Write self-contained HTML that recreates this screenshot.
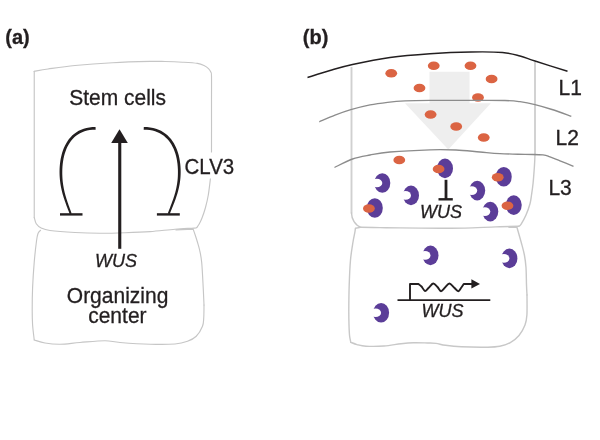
<!DOCTYPE html>
<html>
<head>
<meta charset="utf-8">
<title>Figure</title>
<style>
html,body{margin:0;padding:0;background:#fff;}
body{width:600px;height:440px;overflow:hidden;}
svg{display:block;will-change:transform;}
text{font-family:"Liberation Sans",sans-serif;fill:#231f20;stroke:#231f20;stroke-width:0.3px;}
.lbl{font-size:21px;}
.pan{font-size:20px;font-weight:bold;}
.gene{font-size:18px;font-style:italic;}
.box{fill:none;stroke:#c6c6c6;stroke-width:1.15;stroke-linecap:round;stroke-linejoin:round;}
.blk{fill:none;stroke:#231f20;stroke-width:2.7;}
</style>
</head>
<body>
<svg width="600" height="440" viewBox="0 0 600 440">
<rect width="600" height="440" fill="#fff"/>

<!-- panel (a) -->
<text class="pan" x="5.3" y="44">(a)</text>
<path class="box" d="M34.25,217.50 C34.25,193.12 34.25,95.62 34.25,71.25"/>
<path class="box" d="M34.25,71.25 C36.54,70.88 41.21,69.96 48.00,69.00 C54.79,68.04 64.25,66.55 75.00,65.50 C85.75,64.45 100.00,63.38 112.50,62.70 C125.00,62.02 141.25,61.60 150.00,61.40 C158.75,61.20 159.58,61.37 165.00,61.50 C170.42,61.63 177.08,61.88 182.50,62.20 C187.92,62.52 193.92,62.85 197.50,63.40 C201.08,63.95 202.17,64.63 204.00,65.50 C205.83,66.37 207.37,67.52 208.50,68.60 C209.63,69.68 210.30,70.77 210.80,72.00 C211.30,73.23 211.38,71.33 211.50,76.00 C211.62,80.67 211.50,96.00 211.50,100.00"/>
<path class="box" d="M211.50,100.00 C211.50,108.33 211.55,138.33 211.50,150.00 C211.45,161.67 211.38,165.21 211.20,170.00 C211.02,174.79 210.88,174.58 210.40,178.75 C209.92,182.92 209.12,190.21 208.30,195.00 C207.48,199.79 206.55,203.67 205.50,207.50 C204.45,211.33 203.05,215.25 202.00,218.00 C200.95,220.75 200.06,222.42 199.20,224.00 C198.34,225.58 197.24,226.92 196.85,227.50"/>
<path class="box" d="M196.85,227.50 C196.38,227.60 197.64,227.82 194.00,228.10 C190.36,228.38 182.33,228.62 175.00,229.20 C167.67,229.78 158.33,231.01 150.00,231.60 C141.67,232.19 133.33,232.47 125.00,232.75 C116.67,233.03 108.33,233.29 100.00,233.25 C91.67,233.21 83.33,232.96 75.00,232.50 C66.67,232.04 55.62,231.25 50.00,230.50 C44.38,229.75 43.54,229.12 41.25,228.00 C38.96,226.88 37.42,225.50 36.25,223.75 C35.08,222.00 34.58,218.54 34.25,217.50"/>
<path class="box" d="M40.50,230.30 C40.08,230.83 38.67,231.72 38.00,233.50 C37.33,235.28 37.13,236.17 36.50,241.00 C35.87,245.83 34.85,254.75 34.20,262.50 C33.55,270.25 32.93,279.58 32.60,287.50 C32.27,295.42 32.20,303.75 32.20,310.00 C32.20,316.25 32.26,320.00 32.60,325.00 C32.94,330.00 33.98,337.50 34.25,340.00"/>
<path class="box" d="M34.25,340.00 C36.04,340.50 40.71,342.29 45.00,343.00 C49.29,343.71 54.17,344.33 60.00,344.25 C65.83,344.17 72.50,343.08 80.00,342.50 C87.50,341.92 98.33,340.75 105.00,340.75 C111.67,340.75 112.50,341.92 120.00,342.50 C127.50,343.08 140.83,344.00 150.00,344.25 C159.17,344.50 168.75,344.50 175.00,344.00 C181.25,343.50 183.96,342.54 187.50,341.25 C191.04,339.96 193.75,338.75 196.25,336.25 C198.75,333.75 201.25,329.38 202.50,326.25 C203.75,323.12 203.50,321.04 203.75,317.50 C204.00,313.96 203.96,307.08 204.00,305.00"/>
<path class="box" d="M204.00,305.00 C203.87,302.08 203.58,294.58 203.20,287.50 C202.82,280.42 202.30,268.75 201.70,262.50 C201.10,256.25 200.32,253.42 199.60,250.00 C198.88,246.58 198.13,244.50 197.40,242.00 C196.67,239.50 195.92,237.17 195.20,235.00 C194.48,232.83 193.45,230.00 193.10,229.00 M176,229.9 L193.1,229.1"/>
<rect x="183" y="152.5" width="53" height="26" fill="#fff"/>
<text class="lbl" transform="translate(69.2,104.6) scale(1,1.055)">Stem cells</text>
<text class="lbl" transform="translate(184.5,173.7) scale(0.975,1.075)">CLV3</text>
<text class="gene" x="95.1" y="266.9">WUS</text>
<text class="lbl" transform="translate(66.8,302.6) scale(1,1.055)">Organizing</text>
<text class="lbl" transform="translate(88.2,323.2) scale(1,1.055)">center</text>
<path d="M119.75,141 L119.75,248.8" fill="none" stroke="#231f20" stroke-width="3.1"/>
<path d="M119.5,129.3 L127.8,143 L111.2,143 Z" fill="#231f20"/>
<path d="M95.55,126.93 L92.38,127.04 L89.32,127.38 L86.42,127.94 L83.69,128.71 L81.11,129.68 L78.70,130.84 L76.44,132.18 L74.34,133.69 L72.40,135.36 L70.61,137.17 L68.97,139.12 L67.48,141.19 L66.13,143.38 L64.92,145.66 L63.84,148.04 L62.89,150.50 L62.07,153.03 L61.38,155.63 L60.79,158.28 L60.33,160.97 L59.97,163.70 L59.72,166.45 L59.57,169.22 L59.53,171.99 L59.57,174.13 L59.65,176.19 L59.79,178.20 L59.97,180.16 L60.19,182.08 L60.45,183.95 L60.74,185.77 L61.08,187.56 L61.45,189.32 L61.85,191.05 L62.28,192.75 L62.74,194.43 L63.23,196.09 L63.74,197.73 L64.27,199.37 L64.83,201.00 L65.40,202.62 L65.99,204.25 L66.59,205.88 L67.21,207.52 L67.83,209.17 L68.47,210.84 L69.11,212.53 L69.76,214.25 L71.64,213.55 L71.02,211.82 L70.40,210.12 L69.80,208.44 L69.20,206.78 L68.62,205.14 L68.05,203.51 L67.49,201.89 L66.96,200.28 L66.44,198.67 L65.95,197.05 L65.48,195.43 L65.03,193.80 L64.61,192.15 L64.22,190.49 L63.86,188.81 L63.54,187.10 L63.24,185.36 L62.98,183.58 L62.76,181.77 L62.58,179.92 L62.44,178.02 L62.34,176.07 L62.28,174.06 L62.27,172.01 L62.32,169.32 L62.46,166.65 L62.70,164.00 L63.05,161.38 L63.49,158.81 L64.05,156.28 L64.71,153.81 L65.49,151.42 L66.38,149.10 L67.39,146.87 L68.51,144.74 L69.76,142.72 L71.14,140.81 L72.64,139.03 L74.27,137.37 L76.04,135.86 L77.95,134.48 L79.99,133.27 L82.19,132.21 L84.54,131.33 L87.05,130.62 L89.73,130.10 L92.58,129.78 L95.65,129.67 Z" fill="#231f20"/>
<path class="blk" style="stroke-width:2.4" d="M60,214.4 L82.5,214.4"/>
<path d="M143.70,129.67 L146.85,129.78 L149.77,130.10 L152.52,130.62 L155.10,131.33 L157.51,132.22 L159.77,133.27 L161.87,134.49 L163.82,135.86 L165.63,137.38 L167.31,139.04 L168.85,140.82 L170.26,142.73 L171.54,144.76 L172.69,146.89 L173.72,149.11 L174.64,151.43 L175.43,153.82 L176.11,156.29 L176.68,158.81 L177.13,161.39 L177.49,164.00 L177.73,166.65 L177.88,169.32 L177.93,172.01 L177.91,174.06 L177.85,176.06 L177.74,178.01 L177.58,179.90 L177.37,181.75 L177.12,183.56 L176.83,185.33 L176.51,187.07 L176.14,188.78 L175.74,190.46 L175.31,192.13 L174.85,193.77 L174.36,195.40 L173.85,197.02 L173.31,198.64 L172.75,200.25 L172.17,201.87 L171.57,203.49 L170.96,205.12 L170.34,206.76 L169.70,208.42 L169.06,210.11 L168.41,211.81 L167.77,213.54 L169.63,214.26 L170.31,212.54 L170.98,210.86 L171.65,209.19 L172.32,207.54 L172.97,205.90 L173.61,204.27 L174.25,202.65 L174.86,201.02 L175.46,199.39 L176.04,197.76 L176.59,196.11 L177.12,194.45 L177.63,192.77 L178.10,191.07 L178.55,189.34 L178.95,187.59 L179.32,185.79 L179.65,183.97 L179.94,182.09 L180.19,180.18 L180.39,178.22 L180.53,176.20 L180.63,174.13 L180.67,171.99 L180.63,169.22 L180.47,166.45 L180.22,163.69 L179.85,160.96 L179.37,158.27 L178.78,155.62 L178.06,153.02 L177.22,150.49 L176.25,148.03 L175.15,145.65 L173.91,143.36 L172.52,141.18 L171.00,139.11 L169.32,137.16 L167.48,135.35 L165.50,133.68 L163.35,132.18 L161.04,130.84 L158.57,129.68 L155.94,128.71 L153.14,127.94 L150.18,127.38 L147.05,127.04 L143.80,126.93 Z" fill="#231f20"/>
<path class="blk" style="stroke-width:2.4" d="M156.9,214.4 L179.8,214.4"/>

<!-- panel (b) -->
<text class="pan" x="302.8" y="44">(b)</text>
<path d="M429.5,71.75 L469.5,71.75 L469.5,103.3 L490.8,103.3 L448.3,149.4 L405,103.3 L429.5,103.3 Z" fill="#eeeeee"/>
<g style="stroke-width:1.4;stroke:#c8c8c8">
<path class="box" style="stroke-width:1.9;stroke:#d0d0d0;stroke-linecap:butt" d="M351.5,67 L351.5,213.5"/>
<path class="box" style="stroke-width:1.9;stroke:#d0d0d0;stroke-linecap:butt" d="M535,154.5 L535,62"/>
<path class="box" style="stroke-width:inherit;stroke:inherit" d="M351.5,213 C351.6,219 355,225.5 361,227.3"/>
<path class="box" style="stroke-width:inherit;stroke:inherit" d="M361.00,227.30 C364.17,227.35 373.50,227.50 380.00,227.60 C386.50,227.70 390.00,227.80 400.00,227.90 C410.00,228.00 429.17,228.17 440.00,228.20 C450.83,228.23 455.67,228.32 465.00,228.10 C474.33,227.88 487.04,227.20 496.00,226.90 C504.96,226.60 514.96,226.40 518.75,226.30"/>
<path class="box" style="stroke-width:inherit;stroke:inherit" d="M518.75,226.30 C519.12,225.97 519.79,226.18 521.00,224.30 C522.21,222.42 524.50,218.43 526.00,215.00 C527.50,211.57 529.08,207.08 530.00,203.75 C530.92,200.42 530.98,198.46 531.50,195.00 C532.02,191.54 532.60,188.00 533.10,183.00 C533.60,178.00 534.18,169.83 534.50,165.00 C534.82,160.17 534.92,155.83 535.00,154.00"/>
<path class="box" style="stroke-width:inherit;stroke:inherit" d="M360.5,227.4 L355.4,228.3  C355.30,229.03 355.20,230.42 354.80,232.70 C354.40,234.98 353.72,237.45 353.00,242.00 C352.28,246.55 351.13,252.83 350.50,260.00 C349.87,267.17 349.48,276.67 349.20,285.00 C348.92,293.33 348.83,303.33 348.80,310.00 C348.77,316.67 348.87,320.67 349.00,325.00 C349.13,329.33 349.30,333.12 349.60,336.00 C349.90,338.88 350.60,341.25 350.80,342.30"/>
<path class="box" style="stroke-width:inherit;stroke:inherit" d="M350.80,342.30 C351.83,342.68 354.47,343.95 357.00,344.60 C359.53,345.25 361.50,345.97 366.00,346.20 C370.50,346.43 378.17,346.42 384.00,346.00 C389.83,345.58 396.08,344.25 401.00,343.70 C405.92,343.15 409.08,342.82 413.50,342.70 C417.92,342.58 423.75,342.88 427.50,343.00 C431.25,343.12 433.00,343.02 436.00,343.40 C439.00,343.78 441.28,344.73 445.50,345.30 C449.72,345.87 454.30,346.48 461.30,346.80 C468.30,347.12 481.08,347.28 487.50,347.20 C493.92,347.12 496.00,347.07 499.80,346.30 C503.60,345.53 507.10,344.40 510.30,342.60 C513.50,340.80 516.55,338.43 519.00,335.50 C521.45,332.57 523.68,328.42 525.00,325.00 C526.32,321.58 526.57,320.00 526.90,315.00 C527.23,310.00 526.98,298.33 527.00,295.00"/>
<path class="box" style="stroke-width:inherit;stroke:inherit" d="M527.00,295.00 C526.92,293.33 526.67,289.58 526.50,285.00 C526.33,280.42 526.35,272.50 526.00,267.50 C525.65,262.50 525.19,259.17 524.40,255.00 C523.61,250.83 522.48,247.08 521.25,242.50 C520.02,237.92 517.71,230.00 517.00,227.50 M509,227.4 L517,227.4"/>
</g>
<path d="M307.50,77.50 C311.25,76.33 322.50,72.67 330.00,70.50 C337.50,68.33 342.50,66.67 352.50,64.50 C362.50,62.33 377.08,59.29 390.00,57.50 C402.92,55.71 416.50,54.67 430.00,53.75 C443.50,52.83 458.92,52.21 471.00,52.00 C483.08,51.79 494.33,51.83 502.50,52.50 C510.67,53.17 514.58,54.58 520.00,56.00 C525.42,57.42 527.08,58.46 535.00,61.00 C542.92,63.54 562.08,69.54 567.50,71.25" fill="none" stroke="#231f20" stroke-width="1.45"/>
<g>
<ellipse cx="445.00" cy="168.40" rx="8.00" ry="9.80" fill="#5b3d98"/>
<ellipse cx="503.75" cy="176.70" rx="8.00" ry="9.80" fill="#5b3d98"/>
<ellipse cx="513.75" cy="205.10" rx="8.00" ry="9.80" fill="#5b3d98"/>
<ellipse cx="374.80" cy="208.00" rx="8.00" ry="9.80" fill="#5b3d98"/>
<ellipse cx="382.30" cy="183.00" rx="8.00" ry="9.80" fill="#5b3d98"/><ellipse cx="376.80" cy="183.00" rx="5.50" ry="4.30" fill="#fff"/>
<ellipse cx="411.00" cy="195.40" rx="8.00" ry="9.80" fill="#5b3d98"/><ellipse cx="405.50" cy="195.40" rx="5.50" ry="4.30" fill="#fff"/>
<ellipse cx="477.20" cy="190.60" rx="8.00" ry="9.80" fill="#5b3d98"/><ellipse cx="471.70" cy="190.60" rx="5.50" ry="4.30" fill="#fff"/>
<ellipse cx="490.30" cy="211.60" rx="8.00" ry="9.80" fill="#5b3d98"/><ellipse cx="484.80" cy="211.60" rx="5.50" ry="4.30" fill="#fff"/>
<ellipse cx="430.50" cy="255.40" rx="8.00" ry="9.80" fill="#5b3d98"/><ellipse cx="425.00" cy="255.40" rx="5.50" ry="4.30" fill="#fff"/>
<ellipse cx="509.40" cy="258.40" rx="8.00" ry="9.80" fill="#5b3d98"/><ellipse cx="503.90" cy="258.40" rx="5.50" ry="4.30" fill="#fff"/>
<ellipse cx="381.10" cy="312.80" rx="8.00" ry="9.80" fill="#5b3d98"/><ellipse cx="375.60" cy="312.80" rx="5.50" ry="4.30" fill="#fff"/>
</g>
<g>
<ellipse cx="391.25" cy="73.25" rx="5.90" ry="4.25" fill="#db6443"/>
<ellipse cx="433.75" cy="65.75" rx="5.90" ry="4.25" fill="#db6443"/>
<ellipse cx="470.50" cy="65.75" rx="5.90" ry="4.25" fill="#db6443"/>
<ellipse cx="491.60" cy="79.10" rx="5.90" ry="4.25" fill="#db6443"/>
<ellipse cx="419.50" cy="88.00" rx="5.90" ry="4.25" fill="#db6443"/>
<ellipse cx="478.00" cy="97.40" rx="5.90" ry="4.25" fill="#db6443"/>
<ellipse cx="430.60" cy="114.50" rx="5.90" ry="4.25" fill="#db6443"/>
<ellipse cx="456.20" cy="126.60" rx="5.90" ry="4.25" fill="#db6443"/>
<ellipse cx="483.75" cy="137.50" rx="5.90" ry="4.25" fill="#db6443"/>
<ellipse cx="399.30" cy="160.00" rx="5.90" ry="4.25" fill="#db6443"/>
<ellipse cx="438.60" cy="169.00" rx="5.90" ry="4.25" fill="#db6443"/>
<ellipse cx="497.75" cy="177.30" rx="5.90" ry="4.25" fill="#db6443"/>
<ellipse cx="507.50" cy="205.75" rx="5.90" ry="4.25" fill="#db6443"/>
<ellipse cx="368.90" cy="208.40" rx="5.90" ry="4.25" fill="#db6443"/>
</g>
<path d="M319.30,121.80 C321.92,120.70 329.75,117.22 335.00,115.20 C340.25,113.18 344.97,111.42 350.80,109.70 C356.63,107.98 363.87,106.13 370.00,104.90 C376.13,103.67 381.77,102.97 387.60,102.30 C393.43,101.63 397.93,101.22 405.00,100.90 C412.07,100.58 419.17,100.48 430.00,100.40 C440.83,100.32 457.50,100.38 470.00,100.40 C482.50,100.42 496.67,100.28 505.00,100.50 C513.33,100.72 515.00,101.02 520.00,101.70 C525.00,102.38 529.67,103.30 535.00,104.60 C540.33,105.90 545.95,107.55 552.00,109.50 C558.05,111.45 568.08,115.17 571.30,116.30" fill="none" stroke="#8c8c8c" stroke-width="1.35"/>
<path d="M334.50,167.50 C337.50,166.08 346.58,161.08 352.50,159.00 C358.42,156.92 363.75,156.17 370.00,155.00 C376.25,153.83 380.00,152.87 390.00,152.00 C400.00,151.13 419.00,150.13 430.00,149.80 C441.00,149.47 447.67,149.63 456.00,150.00 C464.33,150.37 472.67,151.40 480.00,152.00 C487.33,152.60 492.50,153.20 500.00,153.60 C507.50,154.00 517.83,154.18 525.00,154.40 C532.17,154.62 538.83,154.50 543.00,154.90 C547.17,155.30 547.17,155.82 550.00,156.80 C552.83,157.78 556.08,159.22 560.00,160.80 C563.92,162.38 571.25,165.38 573.50,166.30" fill="none" stroke="#8c8c8c" stroke-width="1.35"/>
<path d="M446,179.8 L446,199" fill="none" stroke="#231f20" stroke-width="2.8"/>
<path d="M438.5,199.3 L452.8,199.3" fill="none" stroke="#231f20" stroke-width="2.4"/>
<text class="gene" x="420.1" y="217.7">WUS</text>
<path d="M397.5,300.2 L490.3,300.2" fill="none" stroke="#231f20" stroke-width="1.75"/>
<path d="M410,300 L410,284 L418.5,284  C419.00,284.42 420.42,285.33 421.50,286.50 C422.58,287.67 423.83,290.75 425.00,291.00 C426.17,291.25 427.13,289.25 428.50,288.00 C429.87,286.75 431.70,283.67 433.20,283.50 C434.70,283.33 436.20,285.72 437.50,287.00 C438.80,288.28 439.75,291.12 441.00,291.20 C442.25,291.28 443.60,288.78 445.00,287.50 C446.40,286.22 447.90,283.50 449.40,283.50 C450.90,283.50 452.52,286.22 454.00,287.50 C455.48,288.78 457.13,291.12 458.30,291.20 C459.47,291.28 460.09,289.20 461.00,288.00 C461.91,286.80 463.29,284.67 463.75,284.00 L472.5,284" fill="none" stroke="#231f20" stroke-width="1.9" stroke-linejoin="round"/>
<path d="M471.4,279.3 L480,283.9 L471.4,288.5 Z" fill="#231f20"/>
<text class="gene" x="421.6" y="317.2">WUS</text>
<text class="lbl" transform="translate(558.5,95) scale(1,1.055)">L1</text>
<text class="lbl" transform="translate(555.5,145) scale(1,1.055)">L2</text>
<text class="lbl" transform="translate(548.4,194.5) scale(1,1.055)">L3</text>
</svg>
</body>
</html>
